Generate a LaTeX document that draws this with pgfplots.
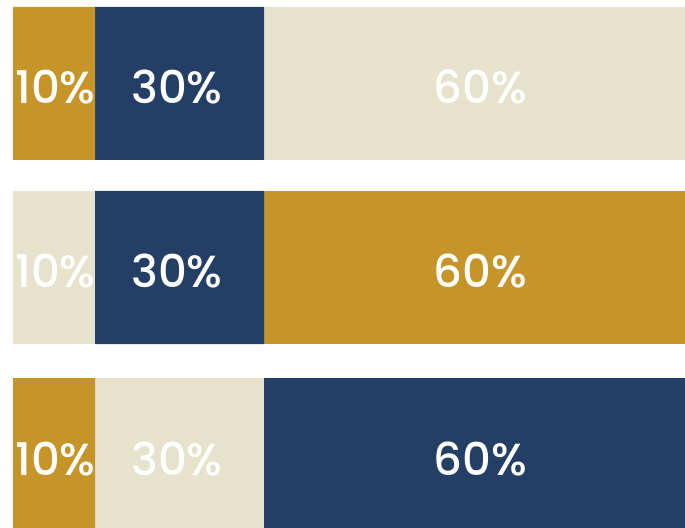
\documentclass[border=0pt]{standalone}
\usepackage{pgfplots}
\pgfplotsset{compat=1.18}
\usepackage{fontspec}
\setmainfont{Poppins}
\newfontfamily\labelfont{Poppins Medium}
\definecolor{gold}{HTML}{C59529}
\definecolor{navy}{HTML}{243F66}
\definecolor{cream}{HTML}{E7E2CC}
\pgfplotsset{base/.style={scale only axis, width=342.5pt, height=263.5pt,
  xmin=-13, xmax=672, ymin=0, ymax=527, hide axis, clip=true, anchor=south west, at={(0,0)}}}
\begin{document}
\begin{tikzpicture}
\useasboundingbox (0,0) rectangle (342.5pt,263.5pt);
\begin{axis}[base, xbar stacked, bar width=153]
% position 1
\addplot[fill=gold, draw=none] coordinates {(82,443.5) (0,259.5) (82,72.5)};
\addplot[fill=cream, draw=none] coordinates {(0,443.5) (82,259.5) (0,72.5)};
% position 2
\addplot[fill=navy, draw=none] coordinates {(169,443.5) (169,259.5) (0,72.5)};
\addplot[fill=cream, draw=none] coordinates {(0,443.5) (0,259.5) (169,72.5)};
% position 3
\addplot[fill=cream, draw=none] coordinates {(432,443.5) (0,259.5) (0,72.5)};
\addplot[fill=gold, draw=none] coordinates {(0,443.5) (432,259.5) (0,72.5)};
\addplot[fill=navy, draw=none] coordinates {(0,443.5) (0,259.5) (432,72.5)};
\end{axis}
\begin{axis}[base]
\addplot[only marks, mark=none, nodes near coords, point meta=explicit symbolic,
  nodes near coords style={white, anchor=center, inner sep=0pt, font=\labelfont\fontsize{22.5}{27}\selectfont}]
  coordinates {
  (42.5,440) [10\%] (164,440) [30\%] (467.5,440) [60\%]
  (42.5,256) [10\%] (164,256) [30\%] (467.5,256) [60\%]
  (42.5,68) [10\%] (164,68) [30\%] (467.5,68) [60\%]
  };
\end{axis}
\end{tikzpicture}
\end{document}
